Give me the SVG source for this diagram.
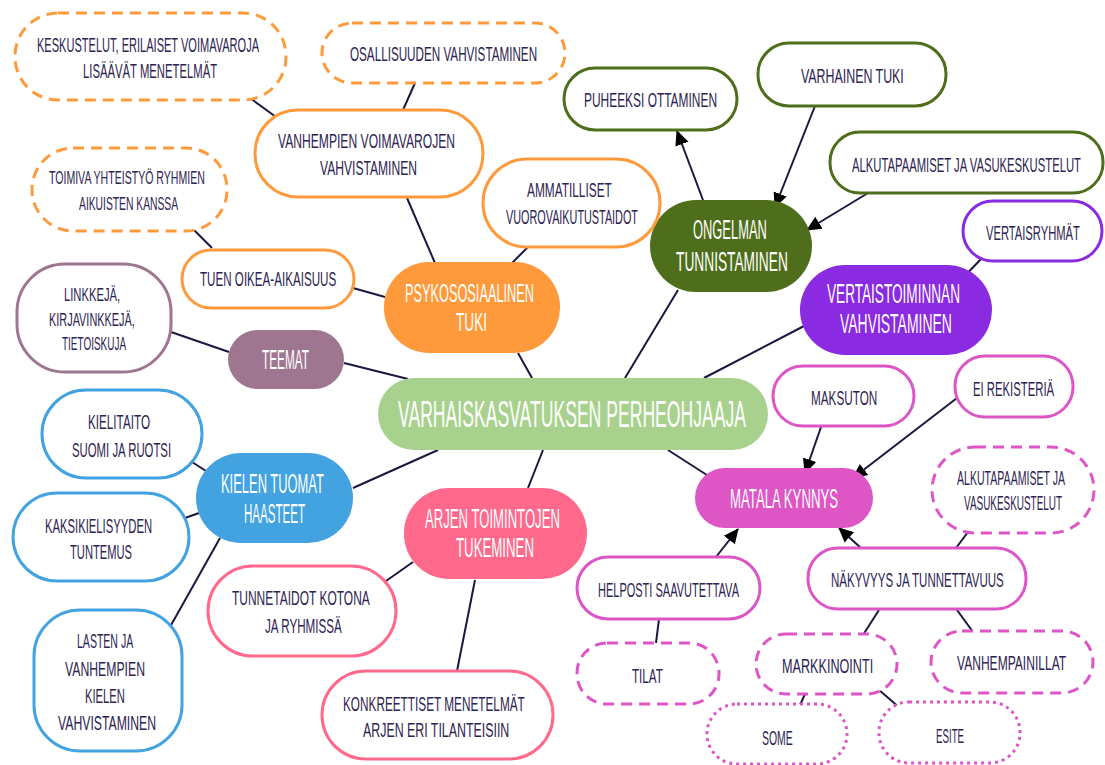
<svg xmlns="http://www.w3.org/2000/svg" width="1105" height="765" viewBox="0 0 1105 765">
<defs>
<marker id="ah" markerUnits="userSpaceOnUse" markerWidth="16" markerHeight="16" viewBox="0 0 16 16" refX="14" refY="8" orient="auto">
<path d="M0,1 L15,8 L0,15 z" fill="#000"/>
</marker>
</defs>
<style>
.t{font-family:"Liberation Sans",Arial,sans-serif;fill:#2e2452;font-size:21px}
.s{font-size:18px}
.w{fill:#fff;font-size:28px}
.c{stroke:#1e1640;stroke-width:2;fill:none}
.a{marker-end:url(#ah)}
.n{fill:#fff;stroke-width:3}
.or{stroke:#ff9a3c}
.gr{stroke:#4f6e1b}
.pu{stroke:#8a2be2}
.mv{stroke:#9e7690}
.bl{stroke:#43a3e0}
.pk{stroke:#ff6a8c}
.mg{stroke:#de55c6}
.dash{stroke-dasharray:11 7}
.dot{stroke-dasharray:3 4}
</style>
<rect width="1105" height="765" fill="#fff"/>
<g id="connectors">
<path class="c" d="M532,378 L518,353"/>
<path class="c" d="M625,378 L678,290"/>
<path class="c" d="M704,378 L804,326"/>
<path class="c" d="M981,259 L958,283"/>
<path class="c" d="M408,379 L344,363"/>
<path class="c" d="M385,297 L353,288"/>
<path class="c" d="M229,352 L171,332"/>
<path class="c" d="M438,450 L353,488"/>
<path class="c" d="M206,471 L192,462"/>
<path class="c" d="M199,513 L185,518"/>
<path class="c" d="M220,538 L170,627"/>
<path class="c" d="M543,450 L528,488"/>
<path class="c" d="M413,562 L386,581"/>
<path class="c" d="M475,580 L457,671"/>
<path class="c" d="M668,450 L710,477"/>
<path class="c a" d="M821,427 L805,473"/>
<path class="c a" d="M957,398 L853,478"/>
<path class="c a" d="M716,557 L738,529"/>
<path class="c a" d="M862,549 L839,528"/>
<path class="c" d="M956,548 L968,532"/>
<path class="c" d="M879,610 L863,635"/>
<path class="c" d="M957,610 L973,632"/>
<path class="c" d="M805,694 L800,705"/>
<path class="c" d="M878,689 L901,709"/>
<path class="c" d="M659,619 L656,643"/>
<path class="c a" d="M703,200 L677,131"/>
<path class="c a" d="M815,106 L775,207"/>
<path class="c a" d="M868,193 L807,230"/>
<path class="c" d="M407,198 L435,263"/>
<path class="c" d="M528,247 L512,263"/>
<path class="c" d="M415,83 L403,110"/>
<path class="c" d="M250,98 L276,117"/>
<path class="c" d="M193,229 L212,248"/>
</g>
<g id="n-center"><rect x="378" y="378" width="390" height="72" rx="36" fill="#a9d18e"/>
<text class="t w" style="font-size:36px" transform="matrix(.48 0 0 1 398 427)" textLength="725" lengthAdjust="spacingAndGlyphs">VARHAISKASVATUKSEN PERHEOHJAAJA</text></g>
<g id="n-psyko"><rect x="384" y="262" width="176" height="91" rx="45" fill="#ff9a3c"/>
<text class="t w" style="font-size:25px" transform="matrix(.5 0 0 1 405 302)" textLength="258" lengthAdjust="spacingAndGlyphs">PSYKOSOSIAALINEN</text>
<text class="t w" style="font-size:25px" transform="matrix(.5 0 0 1 456 331)" textLength="62" lengthAdjust="spacingAndGlyphs">TUKI</text></g>
<g id="n-ongelman"><rect x="650" y="200" width="162" height="92" rx="46" fill="#4f6e1b"/>
<text class="t w" transform="matrix(.47 0 0 1 693 239)" textLength="157" lengthAdjust="spacingAndGlyphs">ONGELMAN</text>
<text class="t w" transform="matrix(.47 0 0 1 676 271)" textLength="238" lengthAdjust="spacingAndGlyphs">TUNNISTAMINEN</text></g>
<g id="n-vertais"><rect x="800" y="265" width="192" height="90" rx="45" fill="#8a2be2"/>
<text class="t w" transform="matrix(.47 0 0 1 827 303)" textLength="283" lengthAdjust="spacingAndGlyphs">VERTAISTOIMINNAN</text>
<text class="t w" transform="matrix(.47 0 0 1 840 333)" textLength="238" lengthAdjust="spacingAndGlyphs">VAHVISTAMINEN</text></g>
<g id="n-teemat"><rect x="228" y="330" width="116" height="59" rx="29.5" fill="#9e7690"/>
<text class="t w" transform="matrix(.47 0 0 1 262 369)" textLength="100" lengthAdjust="spacingAndGlyphs">TEEMAT</text></g>
<g id="n-kielen"><rect x="196" y="453" width="157" height="90" rx="45" fill="#43a3e0"/>
<text class="t w" transform="matrix(.47 0 0 1 221 493)" textLength="219" lengthAdjust="spacingAndGlyphs">KIELEN TUOMAT</text>
<text class="t w" transform="matrix(.47 0 0 1 244 523)" textLength="130" lengthAdjust="spacingAndGlyphs">HAASTEET</text></g>
<g id="n-arjen"><rect x="404" y="488" width="183" height="91" rx="45" fill="#ff6a8c"/>
<text class="t w" transform="matrix(.47 0 0 1 425 528)" textLength="287" lengthAdjust="spacingAndGlyphs">ARJEN TOIMINTOJEN</text>
<text class="t w" transform="matrix(.47 0 0 1 456 557)" textLength="166" lengthAdjust="spacingAndGlyphs">TUKEMINEN</text></g>
<g id="n-matala"><rect x="695" y="468" width="178" height="60" rx="30" fill="#de55c6"/>
<text class="t w" transform="matrix(.47 0 0 1 730 508)" textLength="230" lengthAdjust="spacingAndGlyphs">MATALA KYNNYS</text></g>
<g id="n-keskustelut"><rect class="n or dash" x="15" y="13" width="271" height="87" rx="43"/>
<text class="t" transform="matrix(.53 0 0 1 37 52)" textLength="419" lengthAdjust="spacingAndGlyphs">KESKUSTELUT, ERILAISET VOIMAVAROJA</text>
<text class="t" transform="matrix(.53 0 0 1 83 78)" textLength="253" lengthAdjust="spacingAndGlyphs">LISÄÄVÄT MENETELMÄT</text></g>
<g id="n-osallisuus"><rect class="n or dash" x="322" y="23" width="243" height="60" rx="30"/>
<text class="t" transform="matrix(.53 0 0 1 350 61)" textLength="353" lengthAdjust="spacingAndGlyphs">OSALLISUUDEN VAHVISTAMINEN</text></g>
<g id="n-vanhempien"><rect class="n or" x="255" y="110" width="228" height="87" rx="43"/>
<text class="t" transform="matrix(.53 0 0 1 278 148)" textLength="334" lengthAdjust="spacingAndGlyphs">VANHEMPIEN VOIMAVAROJEN</text>
<text class="t" transform="matrix(.53 0 0 1 320 175)" textLength="183" lengthAdjust="spacingAndGlyphs">VAHVISTAMINEN</text></g>
<g id="n-toimiva"><rect class="n or dash" x="32" y="148" width="195" height="83" rx="41"/>
<text class="t s" transform="matrix(.53 0 0 1 49 184)" textLength="294" lengthAdjust="spacingAndGlyphs">TOIMIVA YHTEISTYÖ RYHMIEN</text>
<text class="t s" transform="matrix(.53 0 0 1 79 210)" textLength="187" lengthAdjust="spacingAndGlyphs">AIKUISTEN KANSSA</text></g>
<g id="n-ammatilliset"><rect class="n or" x="483" y="159" width="177" height="88" rx="44"/>
<text class="t" transform="matrix(.53 0 0 1 527 197)" textLength="160" lengthAdjust="spacingAndGlyphs">AMMATILLISET</text>
<text class="t" transform="matrix(.53 0 0 1 506 224)" textLength="249" lengthAdjust="spacingAndGlyphs">VUOROVAIKUTUSTAIDOT</text></g>
<g id="n-tuen"><rect class="n or" x="182" y="250" width="172" height="58" rx="29"/>
<text class="t" transform="matrix(.53 0 0 1 200 286)" textLength="257" lengthAdjust="spacingAndGlyphs">TUEN OIKEA-AIKAISUUS</text></g>
<g id="n-puheeksi"><rect class="n gr" x="564" y="68" width="173" height="62" rx="31"/>
<text class="t" transform="matrix(.53 0 0 1 584 107)" textLength="251" lengthAdjust="spacingAndGlyphs">PUHEEKSI OTTAMINEN</text></g>
<g id="n-varhainen"><rect class="n gr" x="758" y="43" width="188" height="63" rx="31"/>
<text class="t" transform="matrix(.53 0 0 1 801 83)" textLength="194" lengthAdjust="spacingAndGlyphs">VARHAINEN TUKI</text></g>
<g id="n-alkutap1"><rect class="n gr" x="830" y="132" width="273" height="61" rx="30"/>
<text class="t" transform="matrix(.53 0 0 1 852 172)" textLength="432" lengthAdjust="spacingAndGlyphs">ALKUTAPAAMISET JA VASUKESKUSTELUT</text></g>
<g id="n-vertaisryhmat"><rect class="n pu" x="963" y="201" width="139" height="60" rx="30"/>
<text class="t" transform="matrix(.53 0 0 1 986 240)" textLength="177" lengthAdjust="spacingAndGlyphs">VERTAISRYHMÄT</text></g>
<g id="n-linkkeja"><rect class="n mv" x="17" y="264" width="154" height="108" rx="48"/>
<text class="t s" transform="matrix(.53 0 0 1 64 301)" textLength="106" lengthAdjust="spacingAndGlyphs">LINKKEJÄ,</text>
<text class="t s" transform="matrix(.53 0 0 1 49 326)" textLength="162" lengthAdjust="spacingAndGlyphs">KIRJAVINKKEJÄ,</text>
<text class="t s" transform="matrix(.53 0 0 1 62 350)" textLength="121" lengthAdjust="spacingAndGlyphs">TIETOISKUJA</text></g>
<g id="n-kielitaito"><rect class="n bl" x="42" y="390" width="160" height="88" rx="44"/>
<text class="t" transform="matrix(.53 0 0 1 88 429)" textLength="117" lengthAdjust="spacingAndGlyphs">KIELITAITO</text>
<text class="t" transform="matrix(.53 0 0 1 72 457)" textLength="187" lengthAdjust="spacingAndGlyphs">SUOMI JA RUOTSI</text></g>
<g id="n-kaksikielisyys"><rect class="n bl" x="13" y="493" width="176" height="88" rx="44"/>
<text class="t" transform="matrix(.53 0 0 1 45 533)" textLength="202" lengthAdjust="spacingAndGlyphs">KAKSIKIELISYYDEN</text>
<text class="t" transform="matrix(.53 0 0 1 70 559)" textLength="117" lengthAdjust="spacingAndGlyphs">TUNTEMUS</text></g>
<g id="n-lasten"><rect class="n bl" x="34" y="610" width="148" height="141" rx="46"/>
<text class="t" transform="matrix(.53 0 0 1 77 648)" textLength="106" lengthAdjust="spacingAndGlyphs">LASTEN JA</text>
<text class="t" transform="matrix(.53 0 0 1 65 676)" textLength="151" lengthAdjust="spacingAndGlyphs">VANHEMPIEN</text>
<text class="t" transform="matrix(.53 0 0 1 85 703)" textLength="75" lengthAdjust="spacingAndGlyphs">KIELEN</text>
<text class="t" transform="matrix(.53 0 0 1 58 730)" textLength="185" lengthAdjust="spacingAndGlyphs">VAHVISTAMINEN</text></g>
<g id="n-tunnetaidot"><rect class="n pk" x="208" y="566" width="188" height="90" rx="45"/>
<text class="t" transform="matrix(.53 0 0 1 232 605)" textLength="260" lengthAdjust="spacingAndGlyphs">TUNNETAIDOT KOTONA</text>
<text class="t" transform="matrix(.53 0 0 1 265 633)" textLength="145" lengthAdjust="spacingAndGlyphs">JA RYHMISSÄ</text></g>
<g id="n-konkreettiset"><rect class="n pk" x="322" y="671" width="231" height="88" rx="44"/>
<text class="t" transform="matrix(.53 0 0 1 343 711)" textLength="343" lengthAdjust="spacingAndGlyphs">KONKREETTISET MENETELMÄT</text>
<text class="t" transform="matrix(.53 0 0 1 363 737)" textLength="276" lengthAdjust="spacingAndGlyphs">ARJEN ERI TILANTEISIIN</text></g>
<g id="n-maksuton"><rect class="n mg" x="773" y="366" width="141" height="60" rx="30"/>
<text class="t" transform="matrix(.53 0 0 1 811 405)" textLength="125" lengthAdjust="spacingAndGlyphs">MAKSUTON</text></g>
<g id="n-eirekisteria"><rect class="n mg" x="955" y="356" width="118" height="61" rx="30"/>
<text class="t" transform="matrix(.53 0 0 1 973 396)" textLength="153" lengthAdjust="spacingAndGlyphs">EI REKISTERIÄ</text></g>
<g id="n-alkutap2"><rect class="n mg dash" x="932" y="447" width="162" height="86" rx="43"/>
<text class="t" transform="matrix(.53 0 0 1 957 485)" textLength="204" lengthAdjust="spacingAndGlyphs">ALKUTAPAAMISET JA</text>
<text class="t" transform="matrix(.53 0 0 1 964 510)" textLength="185" lengthAdjust="spacingAndGlyphs">VASUKESKUSTELUT</text></g>
<g id="n-helposti"><rect class="n mg" x="577" y="557" width="183" height="62" rx="31"/>
<text class="t" transform="matrix(.53 0 0 1 598 597)" textLength="266" lengthAdjust="spacingAndGlyphs">HELPOSTI SAAVUTETTAVA</text></g>
<g id="n-tilat"><rect class="n mg dash" x="577" y="643" width="142" height="61" rx="30"/>
<text class="t" transform="matrix(.53 0 0 1 632 683)" textLength="58" lengthAdjust="spacingAndGlyphs">TILAT</text></g>
<g id="n-nakyvyys"><rect class="n mg" x="808" y="548" width="218" height="61" rx="30"/>
<text class="t" transform="matrix(.53 0 0 1 831 587)" textLength="326" lengthAdjust="spacingAndGlyphs">NÄKYVYYS JA TUNNETTAVUUS</text></g>
<g id="n-markkinointi"><rect class="n mg dash" x="756" y="634" width="141" height="60" rx="30"/>
<text class="t" transform="matrix(.53 0 0 1 782 673)" textLength="172" lengthAdjust="spacingAndGlyphs">MARKKINOINTI</text></g>
<g id="n-vanhempainillat"><rect class="n mg dash" x="931" y="631" width="162" height="62" rx="31"/>
<text class="t" transform="matrix(.53 0 0 1 957 670)" textLength="206" lengthAdjust="spacingAndGlyphs">VANHEMPAINILLAT</text></g>
<g id="n-some"><rect class="n mg dot" x="707" y="704" width="140" height="60" rx="30"/>
<text class="t" transform="matrix(.53 0 0 1 762 745)" textLength="58" lengthAdjust="spacingAndGlyphs">SOME</text></g>
<g id="n-esite"><rect class="n mg dot" x="879" y="702" width="141" height="61" rx="30"/>
<text class="t" transform="matrix(.53 0 0 1 936 743)" textLength="53" lengthAdjust="spacingAndGlyphs">ESITE</text></g>
</svg>
